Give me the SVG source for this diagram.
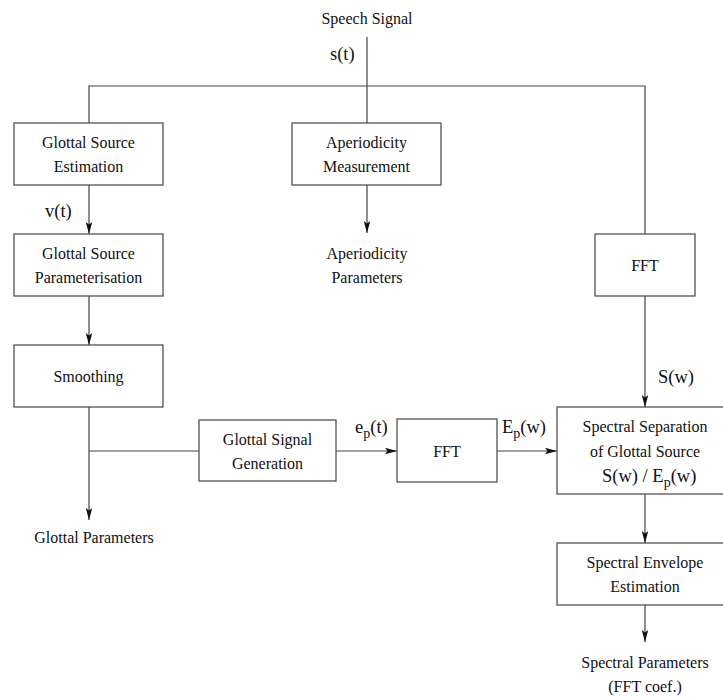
<svg xmlns="http://www.w3.org/2000/svg" width="723" height="697" viewBox="0 0 723 697">
<defs>
<marker id="arr" markerUnits="userSpaceOnUse" markerWidth="13" markerHeight="7" refX="12" refY="3.25" orient="auto">
<path d="M0,0 L12,3.25 L0,6.5 L2.5,3.25 z" fill="#111"/>
</marker>
</defs>
<style>
.box{fill:#fff;stroke:#444;stroke-width:1.2}
.ln{fill:none;stroke:#444;stroke-width:1.2}
.t{font-family:"Liberation Serif","Times New Roman",serif;font-size:16px;fill:#111;text-anchor:middle}
.l{font-family:"Liberation Serif","Times New Roman",serif;font-size:18.5px;fill:#111}
.sub{font-size:14px}
</style>
<rect width="723" height="697" fill="#fff"/>
<g id="connectors">
<line class="ln" x1="367" y1="37" x2="367" y2="123"/>
<polyline class="ln" points="89,123 89,86 645,86 645,234"/>
<line class="ln" x1="89" y1="185" x2="89" y2="234" marker-end="url(#arr)"/>
<line class="ln" x1="367" y1="185" x2="367" y2="233" marker-end="url(#arr)"/>
<line class="ln" x1="89" y1="296" x2="89" y2="345" marker-end="url(#arr)"/>
<line class="ln" x1="89" y1="407" x2="89" y2="520" marker-end="url(#arr)"/>
<line class="ln" x1="89" y1="451" x2="199" y2="451"/>
<line class="ln" x1="336" y1="451" x2="397" y2="451" marker-end="url(#arr)"/>
<line class="ln" x1="497" y1="451" x2="557" y2="451" marker-end="url(#arr)"/>
<line class="ln" x1="645" y1="296" x2="645" y2="407" marker-end="url(#arr)"/>
<line class="ln" x1="645" y1="494" x2="645" y2="543" marker-end="url(#arr)"/>
<line class="ln" x1="645" y1="605" x2="645" y2="642" marker-end="url(#arr)"/>
<text class="l" x="330" y="60">s(t)</text>
<text class="l" x="45" y="217">v(t)</text>
<text class="l" x="355" y="433">e<tspan class="sub" dy="5">p</tspan><tspan dy="-5">(t)</tspan></text>
<text class="l" x="502" y="433">E<tspan class="sub" dy="5">p</tspan><tspan dy="-5">(w)</tspan></text>
<text class="l" x="658" y="383">S(w)</text>
</g>
<g id="speech-signal"><text class="t" x="367" y="24">Speech Signal</text></g>
<g id="glottal-source-estimation">
<rect class="box" x="14" y="123" width="149" height="62"/>
<text class="t" x="88.5" y="148">Glottal Source</text>
<text class="t" x="88.5" y="172">Estimation</text>
</g>
<g id="aperiodicity-measurement">
<rect class="box" x="292" y="123" width="149" height="62"/>
<text class="t" x="366.5" y="148">Aperiodicity</text>
<text class="t" x="366.5" y="172">Measurement</text>
</g>
<g id="aperiodicity-parameters">
<text class="t" x="367" y="259">Aperiodicity</text>
<text class="t" x="367" y="283">Parameters</text>
</g>
<g id="glottal-source-parameterisation">
<rect class="box" x="14" y="234" width="149" height="62"/>
<text class="t" x="88.5" y="259">Glottal Source</text>
<text class="t" x="88.5" y="283">Parameterisation</text>
</g>
<g id="fft-right">
<rect class="box" x="595" y="234" width="100" height="62"/>
<text class="t" x="645" y="271">FFT</text>
</g>
<g id="smoothing">
<rect class="box" x="14" y="345" width="149" height="62"/>
<text class="t" x="88.5" y="382">Smoothing</text>
</g>
<g id="glottal-signal-generation">
<rect class="box" x="199" y="420" width="137" height="61"/>
<text class="t" x="267.5" y="445">Glottal Signal</text>
<text class="t" x="267.5" y="469">Generation</text>
</g>
<g id="fft-middle">
<rect class="box" x="397" y="419" width="100" height="63"/>
<text class="t" x="447" y="457">FFT</text>
</g>
<g id="spectral-separation">
<rect class="box" x="557" y="407" width="168" height="87"/>
<text class="t" x="645" y="432">Spectral Separation</text>
<text class="t" x="645" y="457">of Glottal Source</text>
<text class="l" x="602" y="482">S(w) / E<tspan class="sub" dy="5">p</tspan><tspan dy="-5">(w)</tspan></text>
</g>
<g id="spectral-envelope-estimation">
<rect class="box" x="557" y="543" width="168" height="62"/>
<text class="t" x="645" y="568">Spectral Envelope</text>
<text class="t" x="645" y="592">Estimation</text>
</g>
<g id="glottal-parameters"><text class="t" x="94" y="543">Glottal Parameters</text></g>
<g id="spectral-parameters">
<text class="t" x="645" y="668">Spectral Parameters</text>
<text class="t" x="645" y="692">(FFT coef.)</text>
</g>
</svg>
